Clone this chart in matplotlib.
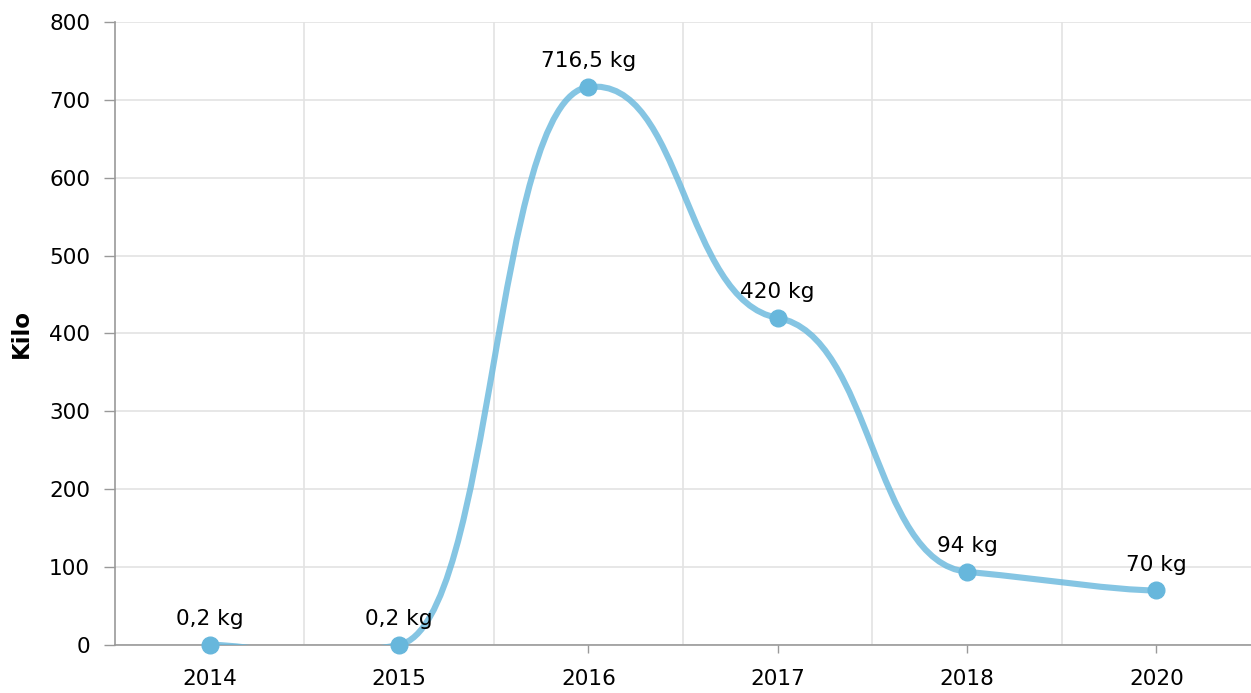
import matplotlib.pyplot as plt
from matplotlib.path import Path
from matplotlib.patches import PathPatch
import numpy as np

years = ["2014", "2015", "2016", "2017", "2018", "2020"]
kilos = [0.2, 0.2, 716.5, 420, 94, 70]
labels = ["0,2 kg", "0,2 kg", "716,5 kg", "420 kg", "94 kg", "70 kg"]

COLOR = "#67b7dc"
TEXT = "#000000"
AXIS = "#999999"
GRID = "#e3e3e3"


def smooth_path(xs, ys, kx=0.25, ky=0.034):
    # tension-style spline: separate horizontal / vertical control point factors
    pts = list(zip(xs, ys))
    verts = [pts[0]]
    codes = [Path.MOVETO]
    n = len(pts)
    for i in range(n - 1):
        p0 = pts[max(i - 1, 0)]
        p1 = pts[i]
        p2 = pts[i + 1]
        p3 = pts[min(i + 2, n - 1)]
        c1 = (p1[0] + kx * (p2[0] - p0[0]), p1[1] + ky * (p2[1] - p0[1]))
        c2 = (p2[0] - kx * (p3[0] - p1[0]), p2[1] - ky * (p3[1] - p1[1]))
        verts += [c1, c2, p2]
        codes += [Path.CURVE4, Path.CURVE4, Path.CURVE4]
    return Path(verts, codes)


fig = plt.figure(figsize=(12.51, 6.93), dpi=100)
ax = fig.add_axes([0.0920, 0.0693, 0.908, 0.899])

x = np.arange(len(years))
patch = PathPatch(smooth_path(x, kilos), facecolor="none", edgecolor=COLOR,
                  lw=4.4, alpha=0.8, capstyle="round", joinstyle="round", zorder=3)
ax.add_patch(patch)
ax.plot(x, kilos, "o", color=COLOR, markersize=12, zorder=4, clip_on=False)

for xi, yi, lab in zip(x, kilos, labels):
    ax.annotate(lab, (xi, yi), xytext=(0, 18.5), textcoords="offset points",
                ha="center", va="center", fontsize=15.6, color=TEXT, zorder=5)

ax.set_xlim(-0.5, len(years) - 0.5)
ax.set_ylim(0, 800)
ax.set_yticks(range(0, 801, 100))
ax.set_xticks(x)
ax.set_xticklabels(years)
ax.set_xticks(x[:-1] + 0.5, minor=True)

ax.grid(axis="y", color=GRID, lw=1.2)
ax.grid(axis="x", which="minor", color=GRID, lw=1.2)
ax.set_axisbelow(True)

for s in ["top", "right"]:
    ax.spines[s].set_visible(False)
for s in ["left", "bottom"]:
    ax.spines[s].set_color(AXIS)
    ax.spines[s].set_linewidth(1.2)

ax.tick_params(axis="y", length=8, width=1, color=AXIS, pad=10, labelsize=15.6, labelcolor=TEXT)
ax.tick_params(axis="x", which="major", length=6, width=1, color=AXIS, pad=11, labelsize=15.6, labelcolor=TEXT)
ax.tick_params(axis="x", which="minor", length=0)

ax.set_ylabel("Kilo", fontsize=16.5, fontweight="bold", labelpad=12)

fig.savefig("out.png", dpi=100)
